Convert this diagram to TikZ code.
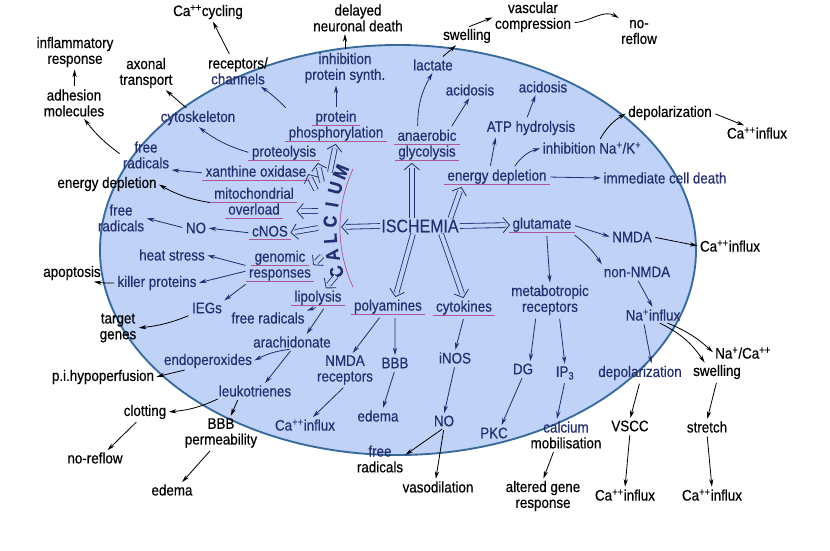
\documentclass[tikz,border=0pt]{standalone}
\usepackage{fontspec}
\setmainfont{Liberation Sans}[FakeStretch=0.88, FakeBold=0.4]
\usetikzlibrary{arrows.meta}

\definecolor{ink}{RGB}{36,46,112}
\definecolor{cell}{RGB}{192,210,248}
\definecolor{rim}{RGB}{56,106,156}
\definecolor{ulc}{RGB}{176,86,150}

\newlength\ulw
\newcommand\ul[1]{\settowidth\ulw{#1}\addtolength\ulw{6pt}%
  \leavevmode\rlap{\hspace*{-3pt}\textcolor{ulc}{\rule[-3.2pt]{\ulw}{0.6pt}}}#1}

\begin{document}
\begin{tikzpicture}[x=0.03cm, y=-0.03cm,
    every node/.style={font=\fontsize{13}{13.5}\selectfont},
    inlbl/.style={text=ink, align=center, inner sep=1pt},
    outlbl/.style={text=black, align=center, inner sep=1pt},
    arr/.style={draw=ink, line width=0.7pt, -{Stealth[length=6.5pt,width=3.6pt]}, shorten >=1pt, shorten <=2pt},
    oarr/.style={arr, draw=black},
    dbl/.style={draw=cell, line width=3.4pt, shorten >=5pt,
        preaction={draw=ink, line width=4.8pt, shorten >=5pt},
        postaction={draw=cell, line width=0.1pt, shorten >=1pt,
            -{Straight Barb[color=ink, length=5.5pt, width=13pt, line width=0.7pt]}}}]
            \fill[white] (0,0) rectangle (830,550);
            \useasboundingbox (0,0) rectangle (830,550);
            \draw[rim, line width=1.6pt, fill=cell] (398,250) ellipse [x radius=8.94cm, y radius=6.15cm];

            % outside the cell
            \node[outlbl] (ca1) at (208,12) {Ca\textsuperscript{++}cycling};
            \node[outlbl] (delay) at (358,18) {delayed\\neuronal death};
            \node[outlbl] (vasc) at (533,17) {vascular\\compression};
            \node[outlbl] (noflowA) at (639,32) {no-\\reflow};
            \node[outlbl] (swellA) at (467,36) {swelling};
            \node[outlbl] (inflam) at (75,52) {inflammatory\\response};
            \node[outlbl] (axon) at (146,73) {axonal\\transport};
            \node[outlbl] (recep) at (238,71) {receptors/\\\textcolor{ink}{channels}};
            \node[outlbl] (adhes) at (74,103) {adhesion\\molecules};
            \node[outlbl] (depolA) at (670,113) {depolarization};
            \node[outlbl] (caA) at (757,133) {Ca\textsuperscript{++}influx};
            \node[outlbl] (energyO) at (107,184) {energy depletion};
            \node[outlbl] (apop) at (72,273) {apoptosis};
            \node[outlbl] (target) at (118,328) {target\\genes};
            \node[outlbl] (hypo) at (103,377) {p.i.hypoperfusion};
            \node[outlbl] (clot) at (145,412) {clotting};
            \node[outlbl] (noflowB) at (95,458) {no-reflow};
            \node[outlbl] (bbbperm) at (221,433) {BBB\\permeability};
            \node[outlbl] (edemaO) at (172,490) {edema};
            \node[outlbl] (radO) at (380,459) {\textcolor{ink}{free}\\radicals};
            \node[outlbl] (vaso) at (438,487) {vasodilation};
            \node[outlbl] (altered) at (543,496) {altered gene\\response};
            \node[outlbl] (calmob) at (566,435) {\textcolor{ink}{calcium}\\mobilisation};
            \node[outlbl] (caB) at (730,246) {Ca\textsuperscript{++}influx};
            \node[outlbl] (naca) at (743,353) {Na\textsuperscript{+}/Ca\textsuperscript{++}};
            \node[outlbl] (swellB) at (717,372) {swelling};
            \node[inlbl] (depolB) at (640,373) {depolarization};
            \node[outlbl] (vscc) at (630,426) {VSCC};
            \node[outlbl] (stretch) at (707,427) {stretch};
            \node[outlbl] (caC) at (625,495) {Ca\textsuperscript{++}influx};
            \node[outlbl] (caD) at (712,495) {Ca\textsuperscript{++}influx};

            % inside the cell
            \node[inlbl] (inhib) at (345,68) {inhibition\\protein synth.};
            \node[inlbl] (lact) at (433,65) {lactate};
            \node[inlbl] (acidA) at (470,90) {acidosis};
            \node[inlbl] (acidB) at (543,87) {acidosis};
            \node[inlbl] (cyto) at (198,118) {cytoskeleton};
            \node[inlbl] (phos) at (336,126) {\ul{protein}\\\ul{phosphorylation}};
            \node[inlbl] (glyco) at (427,145) {\ul{anaerobic}\\\ul{glycolysis}};
            \node[inlbl] (atp) at (531,128) {ATP hydrolysis};
            \node[inlbl] (inhna) at (592,148) {inhibition Na\textsuperscript{+}/K\textsuperscript{+}};
            \node[inlbl] (radA) at (146,155) {free\\radicals};
            \node[inlbl] (prot) at (284,153) {\ul{proteolysis}};
            \node[inlbl] (xan) at (256,173) {\ul{xanthine oxidase}};
            \node[inlbl] (energy) at (497,177) {\ul{energy depletion}};
            \node[inlbl] (immed) at (665,178) {immediate cell death};
            \node[inlbl] (mito) at (254,203) {\ul{mitochondrial}\\\ul{overload}};
            \node[inlbl] (radB) at (121,218) {free\\radicals};
            \node[inlbl] (noA) at (196,228) {NO};
            \node[inlbl] (cnos) at (270,233) {\ul{cNOS}};
            \node[inlbl, font=\fontsize{15.5}{16}\selectfont] (isch) at (420,226) {ISCHEMIA};
            \node[inlbl] (glut) at (542,225) {\ul{glutamate}};
            \node[inlbl] (nmda) at (632,237) {NMDA};
            \node[inlbl] (heat) at (172,255) {heat stress};
            \node[inlbl] (geno) at (280,266) {\ul{genomic}\\\ul{responses}};
            \node[inlbl] (nonnmda) at (637,272) {non-NMDA};
            \node[inlbl] (killer) at (157,283) {killer proteins};
            \node[inlbl] (metab) at (550,300) {metabotropic\\receptors};
            \node[inlbl] (lipo) at (318,298) {\ul{lipolysis}};
            \node[inlbl] (poly) at (388,307) {\ul{polyamines}};
            \node[inlbl] (cytok) at (464,308) {\ul{cytokines}};
            \node[inlbl] (iegs) at (207,308) {IEGs};
            \node[inlbl] (nainf) at (653,315) {Na\textsuperscript{+}influx};
            \node[inlbl] (radC) at (268,318) {free radicals};
            \node[inlbl] (arach) at (292,342) {arachidonate};
            \node[inlbl] (endo) at (208,361) {endoperoxides};
            \node[inlbl] (nmdarec) at (345,370) {NMDA\\receptors};
            \node[inlbl] (bbb) at (395,363) {BBB};
            \node[inlbl] (inos) at (455,358) {iNOS};
            \node[inlbl] (dg) at (523,369) {DG};
            \node[inlbl] (ip3) at (565,373) {IP\textsubscript{3}};
            \node[inlbl] (leuko) at (255,391) {leukotrienes};
            \node[inlbl] (edemaI) at (378,416) {edema};
            \node[inlbl] (noB) at (444,421) {NO};
            \node[inlbl] (pkc) at (494,433) {PKC};
            \node[inlbl] (caI) at (305,425) {Ca\textsuperscript{++}influx};

            % CALCIUM along its arc
            \draw[ulc, line width=0.6pt] plot[smooth, domain=155:205] ({480+140*cos(\x)},{228-140*sin(\x)});
            \foreach \l [count=\i] in {C,A,L,C,I,U,M} {
                \pgfmathsetmacro\ang{203.5-6.5*\i}
                \node[inlbl, inner sep=0pt, font=\fontsize{16}{16}\bfseries, rotate=\ang-90] (cal\i) at ({480+150*cos(\ang)},{228-150*sin(\ang)}) {\l};
            }
            \coordinate (cal) at (340,227);
            \coordinate (kp) at (330,172);
            \coordinate (kr) at (322,182);
            \coordinate (kx) at (316,190);
            \coordinate (km) at (318,211);
            \coordinate (kn) at (318,228);
            \coordinate (kg) at (322,256);
            \coordinate (kl) at (336,276);

            % open arrows
            \draw[dbl] (isch.west) -- (cal);
            \draw[dbl] ([xshift=-7pt]isch.north) -- ([xshift=-7pt]isch.north |- glyco.south);
            \draw[dbl] ([xshift=26pt]isch.north) -- ([xshift=-30pt]energy.south);
            \draw[dbl] (isch.east) -- (glut.west);
            \draw[dbl] ([xshift=-6pt]isch.south) -- ([xshift=6pt]poly.north);
            \draw[dbl] ([xshift=18pt]isch.south) -- (cytok.north);
            \draw[dbl] (kp) -- (phos.south);
            \draw[dbl] (kr) -- (prot.south east);
            \draw[dbl] (kx) -- (xan.east);
            \draw[dbl] (km) -- ([yshift=-7pt]mito.east);
            \draw[dbl] (kn) -- (cnos.east);
            \draw[dbl] (kg) -- (geno.east);
            \draw[dbl] (kl) -- ([xshift=6pt]lipo.north);

            % thin arrows
            \draw[oarr] (recep) -- (ca1);
            \draw[oarr] (inhib.north) -- (inhib.north |- delay.south);
            \draw[oarr] (lact) -- (swellA);
            \draw[oarr] (swellA.north) -- (vasc.west);
            \draw[oarr] ([yshift=-5pt]vasc.east) to[out=5,in=150] (noflowA.north west);
            \draw[oarr] (adhes) -- (inflam);
            \draw[oarr] (cyto) -- (axon);
            \draw[oarr] (radA.west) to[bend left=8] ([xshift=8pt]adhes.south);
            \draw[arr] (phos.north) -- (phos.north |- inhib.south);
            \draw[arr] (phos.north west) to[bend right=5] ([xshift=-8pt]recep.south east);
            \draw[arr] (prot.west) to[bend left=10] (cyto.south);
            \draw[arr] (xan.west) -- (radA.south east);
            \draw[oarr] (mito.west) to[bend left=10] (energyO.east);
            \draw[arr] (cnos.west) -- (noA.east);
            \draw[arr] (noA.west) -- (radB.east);
            \draw[arr] (geno.west) -- (heat.east);
            \draw[arr] ([yshift=-4pt]geno.west) -- (killer.east);
            \draw[arr] (geno.south west) -- (iegs.north east);
            \draw[oarr] (killer.west) to[bend left=5] ([xshift=-8pt]apop.south east);
            \draw[oarr] (iegs.south west) to[bend left=8] (target.east);
            \draw[arr] (lipo.south) -- (radC.north east);
            \draw[arr] ([xshift=6pt]lipo.south) -- ([xshift=12pt]arach.north);
            \draw[arr] (arach.south) to[bend right=10] (endo.east);
            \draw[arr] (arach.south) -- ([xshift=8pt]leuko.north);
            \draw[oarr] ([xshift=-18pt]endo.south) -- (hypo.east);
            \draw[oarr] ([xshift=-30pt]leuko.south) to[bend left=10] (clot.east);
            \draw[oarr] ([xshift=-14pt]leuko.south) -- ([xshift=8pt]bbbperm.north);
            \draw[oarr] ([xshift=-6pt]clot.south) -- ([xshift=10pt]noflowB.north);
            \draw[oarr] ([xshift=-8pt]bbbperm.south) -- ([xshift=8pt]edemaO.north);
            \draw[arr] ([xshift=-6pt]poly.south) -- ([xshift=6pt]nmdarec.north);
            \draw[arr] ([xshift=6pt]poly.south) -- (bbb.north);
            \draw[arr] (nmdarec.south) -- ([xshift=6pt]caI.north);
            \draw[arr] (bbb.south) -- ([xshift=4pt]edemaI.north);
            \draw[arr] (cytok.south) -- (inos.north);
            \draw[arr] (inos.south) -- (noB.north);
            \draw[oarr] (noB.south) -- ([yshift=3pt]radO.east);
            \draw[oarr] (noB.south) -- ([xshift=-2pt]vaso.north);
            \draw[arr] ([xshift=-8pt]glyco.north) to[bend left=15] (lact.south);
            \draw[arr] ([xshift=20pt]glyco.north) -- (acidA.south);
            \draw[arr] ([xshift=-6pt]energy.north) -- ([xshift=-30pt]atp.south);
            \draw[arr] ([xshift=14pt]energy.north) to[bend left=20] (inhna.west);
            \draw[arr] ([xshift=-4pt]atp.north) -- ([xshift=-6pt]acidB.south);
            \draw[oarr] ([xshift=6pt]inhna.north) to[bend left=15] (depolA.west);
            \draw[oarr] (depolA.east) -- ([xshift=-10pt]caA.north);
            \draw[arr] (energy.east) -- (immed.west);
            \draw[arr] (glut.east) -- (nmda.west);
            \draw[arr] (glut.south east) to[bend left=10] (nonnmda.north west);
            \draw[arr] ([xshift=4pt]glut.south) -- (metab.north);
            \draw[oarr] (nmda.east) -- (caB.west);
            \draw[arr] (nonnmda.south) -- (nainf.north);
            \draw[oarr] ([xshift=-14pt]nainf.south east) to[bend left=10] (naca.west);
            \draw[oarr] ([xshift=4pt]nainf.south) to[bend left=15] ([xshift=-10pt]swellB.north);
            \draw[arr] ([xshift=-8pt]nainf.south) -- ([xshift=10pt]depolB.north);
            \draw[arr] ([xshift=-12pt]metab.south) -- ([xshift=6pt]dg.north);
            \draw[arr] ([xshift=8pt]metab.south) -- (ip3.north);
            \draw[arr] (dg.south) -- ([xshift=6pt]pkc.north);
            \draw[arr] (ip3.south) -- ([xshift=-8pt]calmob.north);
            \draw[oarr] ([xshift=-10pt]calmob.south) -- (altered.north);
            \draw[oarr] (depolB.south) -- (vscc.north);
            \draw[oarr] (swellB.south) -- (stretch.north);
            \draw[oarr] (vscc.south) -- (caC.north);
            \draw[oarr] (stretch.south) -- (caD.north);
        \end{tikzpicture}
\end{document}
